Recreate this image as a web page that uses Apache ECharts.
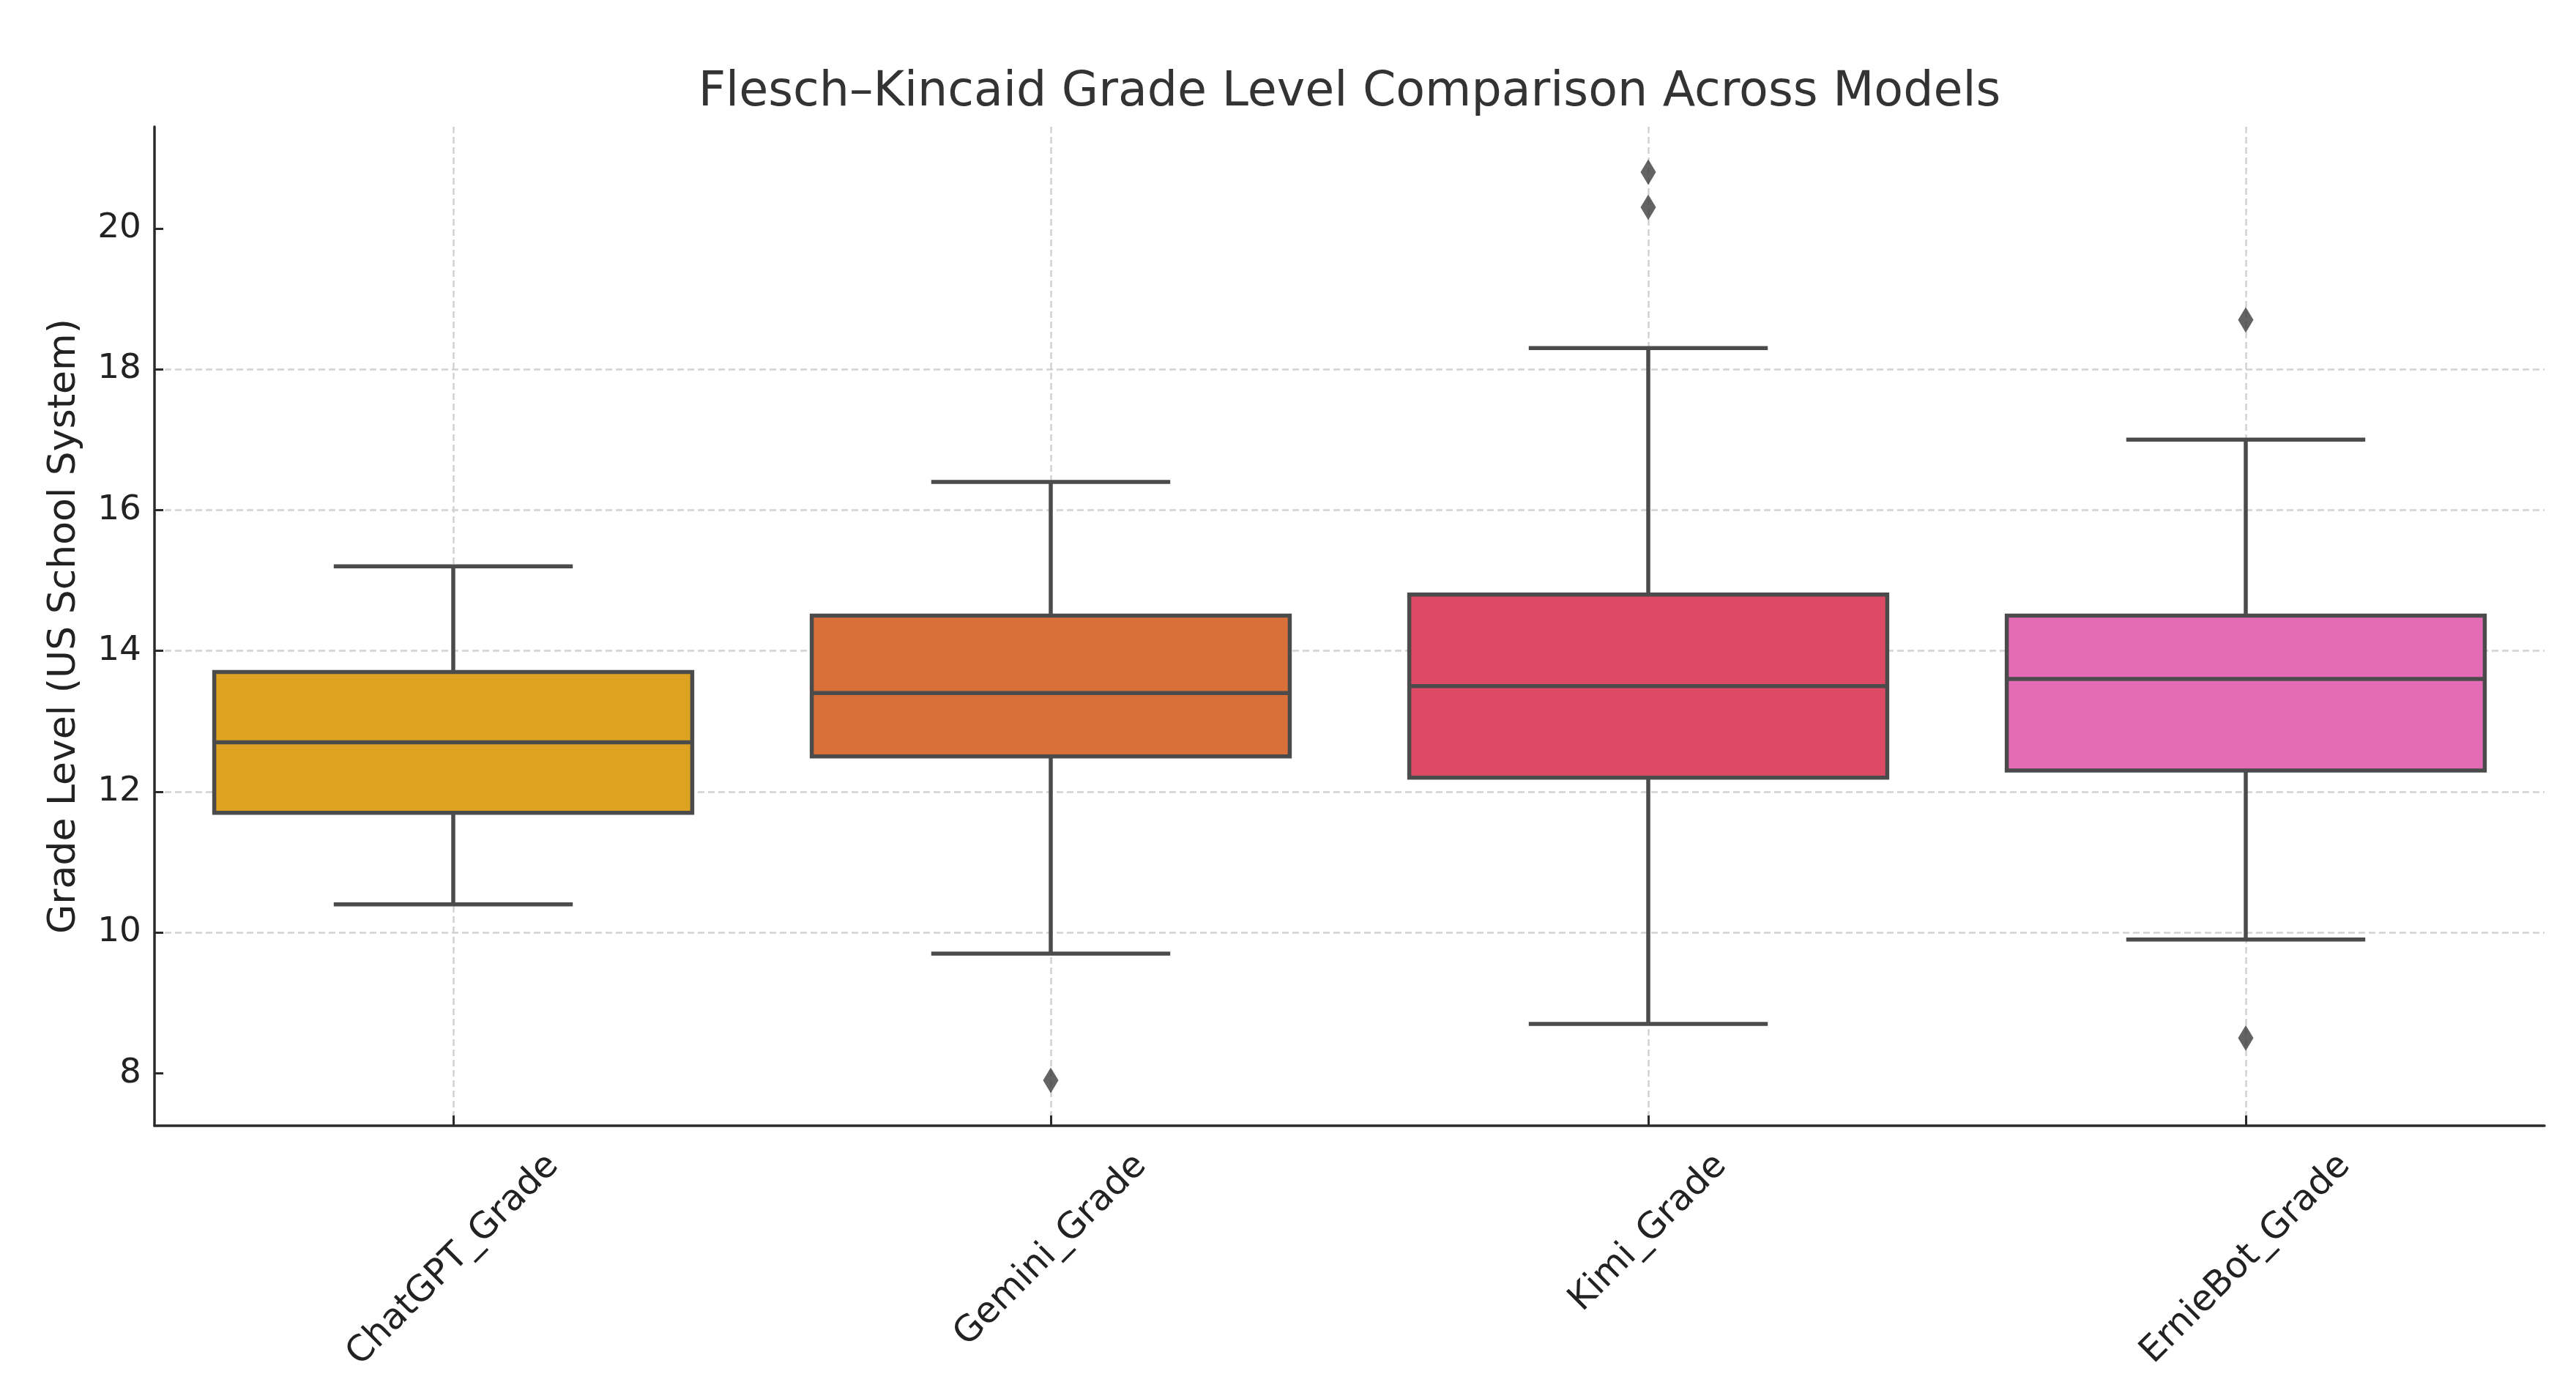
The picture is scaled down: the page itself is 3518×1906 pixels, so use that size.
<!DOCTYPE html>
<html>
<head>
<meta charset="utf-8">
<script src="https://cdn.jsdelivr.net/npm/echarts@6/dist/echarts.min.js"></script>
<style>
  html, body { margin: 0; padding: 0; background: #ffffff; }
  #chart { width: 3518px; height: 1906px; }
</style>
</head>
<body>
<div id="chart"></div>
<script>
// ---- data ----
const categories   = ['ChatGPT_Grade', 'Gemini_Grade', 'Kimi_Grade', 'ErnieBot_Grade'];
const whiskerLow   = [10.4, 9.7, 8.7, 9.9];
const quartile1    = [11.7, 12.5, 12.2, 12.3];
const medians      = [12.7, 13.4, 13.5, 13.6];
const quartile3    = [13.7, 14.5, 14.8, 14.5];
const whiskerHigh  = [15.2, 16.4, 18.3, 17.0];
const outlierCat   = [1, 2, 2, 3, 3];
const outlierValue = [7.9, 20.8, 20.3, 18.7, 8.5];
const yTicks       = [8, 10, 12, 14, 16, 18, 20];
const yMin = 7.255, yMax = 21.445;

// ---- styles ----
const boxColors = ['#DEA222', '#D9703A', '#DC4A66', '#E46BB6'];
const lineColor = '#4b4b4b';
const W = 3518, H = 1906;
const gridPos = { left: 211, right: 43, top: 173, bottom: 369, outerBoundsMode: 'none', containLabel: false };
const xLabelFont = 49;
const yLabelFont = 47;
const fontFamily = 'DejaVu Sans';

// measure label lengths so rotated labels are centred like matplotlib (ha=center, va=top)
const ctx = document.createElement('canvas').getContext('2d');
ctx.font = xLabelFont + 'px "' + fontFamily + '"';
const labelLen = categories.map(function (c) { return ctx.measureText(c).width; });

const boxData = categories.map(function (c, i) {
  return [i, whiskerLow[i], quartile1[i], medians[i], quartile3[i], whiskerHigh[i]];
});
const outlierData = outlierCat.map(function (c, i) { return [c, outlierValue[i]]; });
const labelData = categories.map(function (c, i) { return [i, yMin]; });

function renderBox(params, api) {
  const i = api.value(0);
  const band = api.size([1, 0])[0];
  const boxW = band * 0.8, capW = band * 0.4;
  const pLow = api.coord([i, api.value(1)]);
  const pQ1 = api.coord([i, api.value(2)]);
  const pMed = api.coord([i, api.value(3)]);
  const pQ3 = api.coord([i, api.value(4)]);
  const pHigh = api.coord([i, api.value(5)]);
  const x = pMed[0];
  const ls = { stroke: lineColor, lineWidth: 5.5 };
  return {
    type: 'group',
    children: [
      { type: 'line', shape: { x1: x, y1: pHigh[1], x2: x, y2: pQ3[1] }, style: ls },
      { type: 'line', shape: { x1: x, y1: pQ1[1], x2: x, y2: pLow[1] }, style: ls },
      { type: 'line', shape: { x1: x - capW / 2, y1: pHigh[1], x2: x + capW / 2, y2: pHigh[1] }, style: ls },
      { type: 'line', shape: { x1: x - capW / 2, y1: pLow[1], x2: x + capW / 2, y2: pLow[1] }, style: ls },
      { type: 'rect', shape: { x: x - boxW / 2, y: pQ3[1], width: boxW, height: pQ1[1] - pQ3[1] },
        style: { fill: boxColors[params.dataIndex], stroke: lineColor, lineWidth: 5.5 } },
      { type: 'line', shape: { x1: x - boxW / 2, y1: pMed[1], x2: x + boxW / 2, y2: pMed[1] }, style: ls }
    ]
  };
}

// rotated category labels: bounding box centred on the tick, top of box just below the axis
function renderLabel(params, api) {
  const i = api.value(0);
  const p = api.coord([i, api.value(1)]);
  const L = labelLen[params.dataIndex];
  const h = xLabelFont * 1.16;
  const cy = p[1] + 27 + (L + h) / (2 * Math.SQRT2);
  return {
    type: 'text',
    x: p[0],
    y: cy,
    rotation: Math.PI / 4,
    silent: true,
    style: {
      text: categories[params.dataIndex],
      align: 'center',
      verticalAlign: 'middle',
      fontSize: xLabelFont,
      fontFamily: fontFamily,
      fill: '#222222'
    }
  };
}

const chart = echarts.init(document.getElementById('chart'), null, { renderer: 'canvas', width: W, height: H });
const gridDash = { color: '#d2d2d2', width: 2.5, type: [9, 5] };

chart.setOption({
  backgroundColor: '#ffffff',
  animation: false,
  textStyle: { fontFamily: fontFamily },
  title: {
    text: 'Flesch\u2013Kincaid Grade Level Comparison Across Models',
    left: gridPos.left + (W - gridPos.left - gridPos.right) / 2,
    textAlign: 'center',
    top: 95,
    padding: 0,
    textStyle: { fontFamily: fontFamily, fontSize: 65, fontWeight: 'normal', color: '#333333' }
  },
  grid: gridPos,
  xAxis: {
    type: 'category',
    data: categories,
    boundaryGap: true,
    axisLine: { show: true, lineStyle: { color: '#2b2b2b', width: 3.5 } },
    axisTick: { show: true, inside: true, length: 14, alignWithLabel: true, lineStyle: { color: '#2b2b2b', width: 3 } },
    axisLabel: { show: false },
    splitLine: { show: true, alignWithLabel: true, lineStyle: gridDash }
  },
  yAxis: {
    type: 'value',
    min: yMin,
    max: yMax,
    name: 'Grade Level (US School System)',
    nameLocation: 'middle',
    nameGap: 97,
    nameTextStyle: { fontSize: 52, color: '#222222', fontFamily: fontFamily },
    axisLine: { show: true, lineStyle: { color: '#2b2b2b', width: 3.5 } },
    axisTick: { show: true, inside: true, length: 12, customValues: yTicks, lineStyle: { color: '#2b2b2b', width: 3 } },
    axisLabel: { customValues: yTicks, margin: 18, fontSize: yLabelFont, color: '#222222', fontFamily: fontFamily },
    splitLine: { show: true, showMinLine: false, showMaxLine: false, lineStyle: gridDash }
  },
  series: [
    {
      type: 'custom',
      renderItem: renderBox,
      data: boxData,
      encode: { x: 0, y: [1, 2, 3, 4, 5] },
      z: 2
    },
    {
      type: 'scatter',
      data: outlierData,
      symbol: 'diamond',
      symbolSize: [21, 35],
      itemStyle: { color: '#3c3c3c' },
      z: 3
    },
    {
      type: 'custom',
      name: 'category labels',
      renderItem: renderLabel,
      data: labelData,
      encode: { x: 0, y: 1 },
      clip: false,
      silent: true,
      z: 4
    }
  ]
});
</script>
</body>
</html>
